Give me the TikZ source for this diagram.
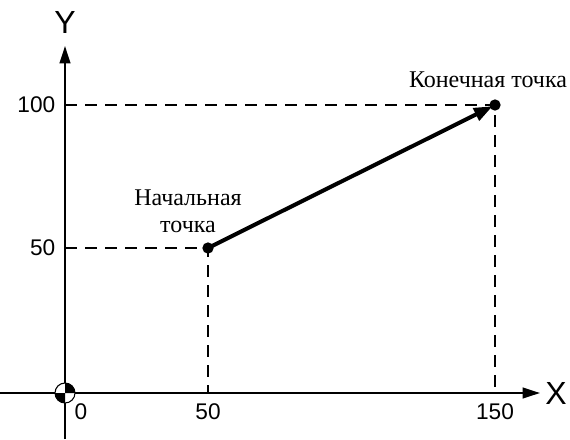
\documentclass[tikz,border=0pt]{standalone}
\usepackage{fontspec}
\setmainfont{Liberation Serif}
\newfontfamily\axisfont{Liberation Sans}
\usetikzlibrary{arrows.meta}

\tikzset{
  axis/.style={line width=1.5pt, -{Triangle[length=13pt,width=8pt]}},
  guide/.style={line width=2.2pt, dash pattern=on 9pt off 6pt},
  dot/.style={circle, fill, inner sep=0pt, minimum size=8.5pt},
  num/.style={font=\axisfont\fontsize{17}{19}\selectfont},
  axlabel/.style={font=\axisfont\fontsize{24}{26}\selectfont},
  caption/.style={font=\fontsize{18}{20.5}\selectfont, align=center}
}

\begin{document}
\begin{tikzpicture}[x=0.75pt,y=-0.75pt]
    \useasboundingbox (0,0) rectangle (570,439);
    \coordinate (O) at (65,393);
    \coordinate (xs) at (0,393);
    \coordinate (xe) at (540,393);
    \coordinate (ys) at (65,439);
    \coordinate (ye) at (65,46);
    \node[dot] (start) at (208,248) {};
    \node[dot] (end) at (495,105) {};
    % guides
    \draw[guide] (O |- start) -- (start.center) -- (start |- O);
    \draw[guide] (O |- end) -- (end.center) -- (end |- O);
    % axes
    \draw[axis] (xs) -- (xe);
    \draw[axis] (ys) -- (ye);
    \node[axlabel] (xlab) at (556,393) {X};
    \node[axlabel] (ylab) at (65,22) {Y};
    % origin mark
    \fill[white] (O) circle (7.5pt);
    \fill (O) -- ++(-10,0) arc (180:90:10) -- cycle;
    \fill (O) -- ++(10,0) arc (0:-90:10) -- cycle;
    \draw[line width=0.8pt] (O) circle (7.5pt);
    % ticks
    \node[num, anchor=east] (t100) at (60,105) {100};
    \node[num, anchor=east] (t50y) at (60,248) {50};
    \node[num] (t0) at (81,412) {0};
    \node[num] (t50x) at (208,412) {50};
    \node[num] (t150) at (495,412) {150};
    % move
    \draw[line width=3pt, -{Triangle[length=14pt,width=10pt]}, shorten >=2pt] (start.center) -- (end.center);
    \node[caption] (startlab) at (188,211) {Начальная\\точка};
    \node[caption] (endlab) at (488,80) {Конечная точка};
\end{tikzpicture}
\end{document}
